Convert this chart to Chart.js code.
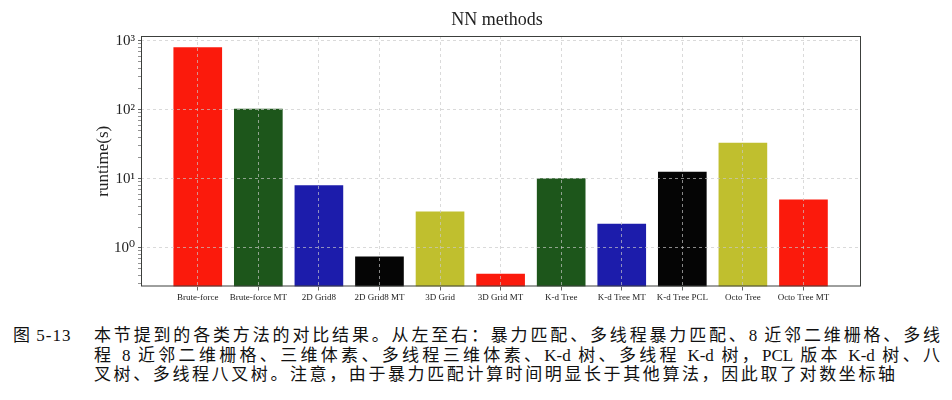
<!DOCTYPE html>
<html>
<head>
<meta charset="utf-8">
<script src="https://cdn.jsdelivr.net/npm/chart.js@4.4.1/dist/chart.umd.min.js"></script>
<style>
  body { margin: 0; background: #fff; width: 952px; height: 400px; overflow: hidden; position: relative; }
  #wrap { position: absolute; left: 0; top: 0; width: 952px; height: 310px; }
  #caption { position: absolute; left: 0; top: 326px; width: 952px;
             font-family: "Liberation Serif", "Noto Sans CJK SC", serif; font-size: 17px;
             line-height: 19.5px; color: #111; }
  #caption .tag { position: absolute; left: 13px; top: 0; letter-spacing: 1px; }
  #caption .body { position: absolute; left: 94px; top: 0; width: 846px; }
  #caption .body div { white-space: nowrap; letter-spacing: 2.6px; }
  #caption .body div.j { text-align: justify; text-align-last: justify; white-space: normal; letter-spacing: 0; }
</style>
</head>
<body>
<div id="wrap"><canvas id="nnChart"></canvas></div>
<div id="caption">
  <div class="tag">图 5-13</div>
  <div class="body">
    <div class="j">本节提到的各类方法的对比结果。从左至右：暴力匹配、多线程暴力匹配、8 近邻二维栅格、多线</div>
    <div class="j">程 8 近邻二维栅格、三维体素、多线程三维体素、K-d 树、多线程 K-d 树，PCL 版本 K-d 树、八</div>
    <div>叉树、多线程八叉树。注意，由于暴力匹配计算时间明显长于其他算法，因此取了对数坐标轴</div>
  </div>
</div>
<script>
// values (seconds)
const categories = ['Brute-force', 'Brute-force MT', '2D Grid8', '2D Grid8 MT', '3D Grid', '3D Grid MT',
                    'K-d Tree', 'K-d Tree MT', 'K-d Tree PCL', 'Octo Tree', 'Octo Tree MT'];
const runtimes = [792, 102, 7.97, 0.74, 3.32, 0.416, 10.07, 2.2, 12.5, 33, 4.95];
const yTickValues = [1, 10, 100, 1000];
const yTickLabels = ['10⁰', '10¹', '10²', '10³'];

// r, g, b, k, y cycle like matplotlib's colour letters
const palette = ['#fb1a0c', '#1d561b', '#1c1cab', '#050505', '#c0bf2e'];
const barColors = categories.map((c, i) => palette[i % palette.length]);

Chart.defaults.font.family = "'Liberation Serif', 'DejaVu Serif', serif";
Chart.defaults.color = '#222';

function isMajor(v) {
    const l = Math.log10(v);
    return Math.abs(l - Math.round(l)) < 1e-9;
}

// matplotlib style frame + title centred over the plot
const frame = {
    id: 'frame',
    afterDraw(chart) {
        const { ctx, chartArea: a } = chart;
        ctx.save();
        ctx.strokeStyle = '#3c3f3c';
        ctx.lineWidth = 1;
        ctx.strokeRect(a.left + 0.5, a.top + 0.5, a.width - 1, a.height - 1);
        ctx.fillStyle = '#222';
        ctx.font = "18px 'Liberation Serif', serif";
        ctx.textAlign = 'center';
        ctx.textBaseline = 'middle';
        ctx.fillText('NN methods', (a.left + a.right) / 2 - 4, 20);
        ctx.restore();
    }
};

const ctx = document.getElementById('nnChart').getContext('2d');
const nnChart = new Chart(ctx, {
    type: 'bar',
    data: {
        datasets: [{
            data: runtimes.map((v, i) => ({ x: i, y: v })),
            backgroundColor: barColors,
            borderWidth: 0,
            barThickness: 48
        }]
    },
    options: {
        responsive: true,
        maintainAspectRatio: false,
        animation: false,
        layout: { padding: { left: 89, right: 91, top: 36, bottom: 0 } },
        plugins: { legend: { display: false }, tooltip: { enabled: false } },
        scales: {
            x: {
                type: 'linear',
                offset: false,
                min: -0.937,
                max: 10.95,
                afterBuildTicks: (scale) => { scale.ticks = categories.map((c, i) => ({ value: i })); },
                afterFit: (scale) => { scale.height = 23.5; },
                ticks: {
                    autoSkip: false, maxRotation: 0, padding: 2,
                    font: { size: 9 }, color: '#222',
                    callback: (v) => categories[v]
                },
                grid: {
                    z: 1, offset: false, color: 'rgba(200,200,200,0.85)', lineWidth: 0.8,
                    borderDash: [3, 3], tickColor: '#3c3f3c', tickLength: 4, tickBorderDash: []
                },
                border: { display: false, dash: [3, 3] }
            },
            y: {
                type: 'logarithmic',
                min: 0.275,
                max: 1170,
                afterBuildTicks: (scale) => {
                    const t = [];
                    for (let e = -1; e <= 3; e++) {
                        for (let m = 1; m <= 9; m++) {
                            const v = m * Math.pow(10, e);
                            if (v >= scale.min && v <= scale.max) t.push({ value: v });
                        }
                    }
                    scale.ticks = t;
                },
                afterFit: (scale) => { scale.width = 52; },
                ticks: {
                    autoSkip: false, padding: 3, font: { size: 15 }, color: '#222',
                    callback: (v) => {
                        const k = yTickValues.findIndex(t => Math.abs(t - v) < 1e-9);
                        return k >= 0 ? yTickLabels[k] : '';
                    }
                },
                grid: {
                    z: 1, lineWidth: 0.8, borderDash: [3, 3], tickLength: 3, tickBorderDash: [],
                    color: (c) => (c.tick && isMajor(c.tick.value)) ? 'rgba(200,200,200,0.85)' : 'rgba(0,0,0,0)',
                    tickColor: (c) => (c.tick && isMajor(c.tick.value)) ? '#3c3f3c' : '#777'
                },
                border: { display: false, dash: [3, 3] },
                title: { display: true, text: 'runtime(s)', font: { size: 17 }, color: '#222', padding: { top: 4, bottom: 4 } }
            }
        }
    },
    plugins: [frame]
});
</script>
</body>
</html>
